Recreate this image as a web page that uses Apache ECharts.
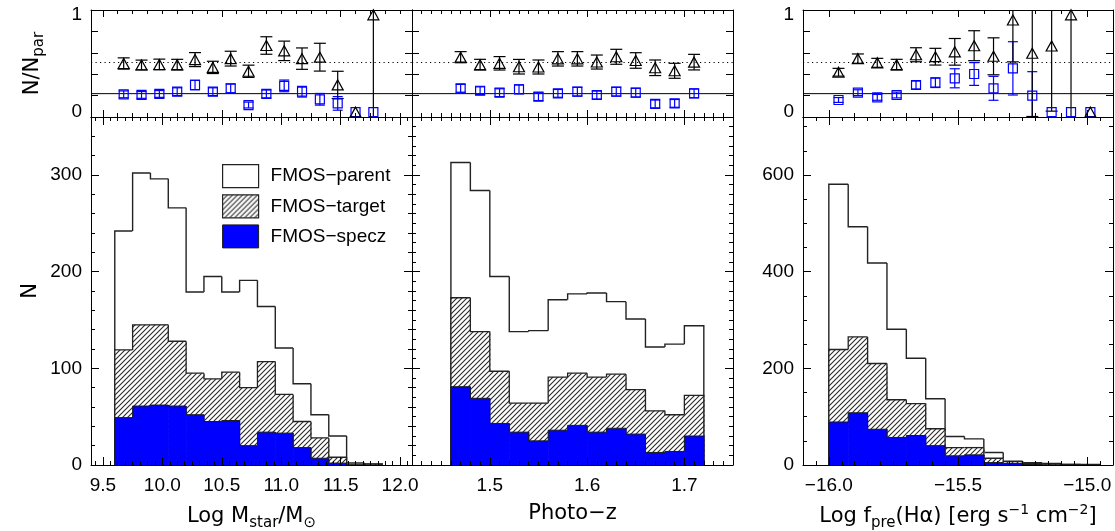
<!DOCTYPE html>
<html>
<head>
<meta charset="utf-8">
<script src="https://cdn.jsdelivr.net/npm/echarts@6/dist/echarts.min.js"></script>
<style>
  html, body { margin: 0; padding: 0; background: #fff; }
  #chart { width: 1115px; height: 531px; }
</style>
</head>
<body>
<div id="chart"></div>
<script>
// ---- Histogram bin edges ----
const massEdges = [9.60, 9.75, 9.90, 10.05, 10.20, 10.35, 10.50, 10.65, 10.80, 10.95, 11.10, 11.25, 11.40, 11.55, 11.70, 11.85];
const zEdges = [1.46, 1.48, 1.50, 1.52, 1.54, 1.56, 1.58, 1.60, 1.62, 1.64, 1.66, 1.68, 1.70, 1.72];
const fluxEdges = [-16.000, -15.925, -15.850, -15.775, -15.700, -15.625, -15.550, -15.475, -15.400, -15.325, -15.250, -15.175, -15.100, -15.025, -14.950];

// ---- Counts per bin ----
const massParent = [242, 302, 296, 266, 179, 195, 179, 191, 164, 121, 84, 52, 30, 2, 1];
const massTarget = [119, 145, 145, 128, 95, 89, 96, 80, 107, 73, 45, 28, 8, 0, 1];
const massSpecz  = [49, 61, 62, 61, 52, 45, 46, 20, 34, 33, 18, 7, 2, 0, 0];

const zParent = [313, 284, 195, 138, 139, 171, 177, 178, 169, 151, 122, 125, 144];
const zTarget = [173, 138, 97, 64, 64, 91, 95, 91, 94, 78, 56, 52, 72];
const zSpecz  = [81, 69, 43, 34, 25, 36, 41, 34, 38, 32, 13, 14, 30];

const fluxParent = [581, 493, 418, 281, 221, 137, 59, 54, 26, 8, 5, 3, 1, 1];
const fluxTarget = [239, 265, 210, 135, 127, 75, 36, 36, 14, 7, 3, 2, 1, 0];
const fluxSpecz  = [89, 108, 74, 57, 61, 40, 19, 21, 5, 3, 1, 0, 0, 0];

// ---- Fractions relative to the parent sample, with 1-sigma errors ----
const massFracTarget = [0.50, 0.485, 0.49, 0.488, 0.54, 0.46, 0.55, 0.42, 0.685, 0.63, 0.55, 0.565, 0.28, 0, 1];
const massErrTarget  = [0.058, 0.05, 0.055, 0.055, 0.072, 0.063, 0.076, 0.063, 0.09, 0.10, 0.11, 0.143, 0.14, 0, 1.1];
const massFracSpecz  = [0.183, 0.177, 0.187, 0.21, 0.279, 0.21, 0.244, 0.073, 0.187, 0.27, 0.21, 0.132, 0.09, 0, 0];
const massErrSpecz   = [0.035, 0.035, 0.035, 0.04, 0.05, 0.04, 0.045, 0.03, 0.04, 0.06, 0.055, 0.06, 0.07, 0, 0];

const zFracTarget = [0.565, 0.488, 0.502, 0.467, 0.464, 0.548, 0.548, 0.515, 0.569, 0.531, 0.456, 0.425, 0.514];
const zErrTarget  = [0.057, 0.055, 0.069, 0.075, 0.072, 0.074, 0.074, 0.072, 0.077, 0.08, 0.08, 0.077, 0.08];
const zFracSpecz  = [0.245, 0.22, 0.20, 0.235, 0.159, 0.193, 0.21, 0.176, 0.21, 0.20, 0.084, 0.09, 0.193];
const zErrSpecz   = [0.04, 0.04, 0.04, 0.045, 0.04, 0.04, 0.045, 0.04, 0.045, 0.045, 0.04, 0.04, 0.045];

const fluxFracTarget = [0.41, 0.55, 0.507, 0.488, 0.59, 0.57, 0.62, 0.683, 0.574, 0.947, 0.605, 0.68, 1.0, 0];
const fluxErrTarget  = [0.04, 0.048, 0.046, 0.055, 0.072, 0.086, 0.137, 0.154, 0.19, 0.43, 0.65, 0.67, 1.1, 0];
const fluxFracSpecz  = [0.125, 0.2, 0.152, 0.176, 0.279, 0.303, 0.348, 0.392, 0.245, 0.45, 0.169, 0, 0, 0];
const fluxErrSpecz   = [0.025, 0.03, 0.03, 0.03, 0.04, 0.05, 0.098, 0.117, 0.123, 0.274, 0.247, 0, 0, 0];

// Overall fractions of the whole sample (horizontal reference lines)
const overallTargetFrac = 0.51;
const overallSpeczFrac = 0.19;

// ---- Tick labels ----
const massTicks = [9.5, 10.0, 10.5, 11.0, 11.5, 12.0];
const zTicks = [1.5, 1.6, 1.7];
const fluxTicks = [-16.0, -15.5, -15.0];
const countTicksA = [0, 100, 200, 300];
const countTicksB = [0, 200, 400, 600];
const fracTicks = [0, 1];

const seriesNames = ['FMOS\u2212parent', 'FMOS\u2212target', 'FMOS\u2212specz'];

// ---------------------------------------------------------------
const FONT = 'Liberation Sans, DejaVu Sans, sans-serif';
const TITLE_FONT = 'DejaVu Sans, Liberation Sans, sans-serif';
const BLUE = '#0000ff';

function steps(a, b, step) {
  const out = [];
  const n = Math.round((b - a) / step);
  for (let i = 0; i <= n; i++) out.push(+(a + i * step).toFixed(6));
  return out;
}
function inside(vals, lo, hi) { return vals.filter(v => v > lo + 1e-9 && v < hi - 1e-9); }
function centers(edges) { return edges.slice(0, -1).map((e, i) => (e + edges[i + 1]) / 2); }

// diagonal hatch pattern
function hatchCanvas() {
  const s = 5, c = document.createElement('canvas');
  c.width = s; c.height = s;
  const g = c.getContext('2d');
  g.fillStyle = '#fff'; g.fillRect(0, 0, s, s);
  g.strokeStyle = '#2a2a2a'; g.lineWidth = 1.1;
  g.beginPath();
  g.moveTo(-1, s + 1); g.lineTo(s + 1, -1);
  g.moveTo(-1, 1); g.lineTo(1, -1);
  g.moveTo(s - 1, s + 1); g.lineTo(s + 1, s - 1);
  g.stroke();
  return c;
}
const HATCH = { image: hatchCanvas(), repeat: 'repeat' };

const cols = [
  { left: 91,  width: 321, xMin: 9.4,   xMax: 12.1,
    xMajorBot: massTicks, xMinorBot: steps(9.375, 12.125, 0.0625),
    xMajorTop: [9.5, 10.5, 11.5], xMinorTop: steps(9.375, 12.125, 0.125),
    yMax: 360, yMajor: countTicksA, yMinor: steps(0, 360, 20),
    xLabels: massTicks, yLabels: countTicksA, fracLabels: true },
  { left: 412, width: 321, xMin: 1.42,  xMax: 1.75,
    xMajorBot: zTicks, xMinorBot: steps(1.42, 1.75, 0.01),
    xMajorTop: zTicks, xMinorTop: steps(1.42, 1.75, 0.01),
    yMax: 360, yMajor: countTicksA, yMinor: steps(0, 360, 10),
    xLabels: zTicks, yLabels: null, fracLabels: false },
  { left: 803, width: 310, xMin: -16.1, xMax: -14.9,
    xMajorBot: fluxTicks, xMinorBot: steps(-16.1, -14.9, 0.05),
    xMajorTop: fluxTicks, xMinorTop: steps(-16.1, -14.9, 0.1),
    yMax: 720, yMajor: countTicksB, yMinor: steps(0, 720, 50),
    xLabels: fluxTicks, yLabels: countTicksB, fracLabels: true }
];

const TOP_Y = 10, TOP_H = 107, BOT_Y = 117, BOT_H = 348;
const FRAC_MIN = -0.05, FRAC_MAX = 1.05;
const fracTickVals = inside(steps(FRAC_MIN, FRAC_MAX, 0.22), FRAC_MIN, FRAC_MAX);

const grids = [];
cols.forEach(c => grids.push({ left: c.left, top: TOP_Y, width: c.width, height: TOP_H, containLabel: false, outerBoundsMode: 'none' }));
cols.forEach(c => grids.push({ left: c.left, top: BOT_Y, width: c.width, height: BOT_H, containLabel: false, outerBoundsMode: 'none' }));

const labelStyle = { color: '#000', fontFamily: FONT, fontSize: 19 };
const titleStyle = { color: '#000', fontFamily: TITLE_FONT, fontSize: 21 };
const richStyles = {
  s: { fontSize: 15, fontFamily: TITLE_FONT, color: '#000', padding: [13, 0, 0, 0] },
  p: { fontSize: 14, fontFamily: TITLE_FONT, color: '#000', padding: [0, 0, 13, 0] }
};

function axisBase(gi, pos, min, max, ticks, len, showLine) {
  return {
    type: 'value', gridIndex: gi, position: pos, min: min, max: max, z: 10, silent: true,
    axisLine: { show: !!showLine, onZero: false, lineStyle: { color: '#000', width: 1 } },
    axisTick: { show: true, inside: true, length: len, customValues: inside(ticks, min, max), lineStyle: { color: '#000', width: 1 } },
    axisLabel: { show: false },
    splitLine: { show: false },
    axisPointer: { show: false }
  };
}
function fmtSigned(v) { return (v < 0 ? '\u2212' : '') + Math.abs(v).toFixed(1); }

const xMain = [], yMain = [], xExtra = [], yExtra = [];
// top panels: grids 0..2
cols.forEach((c, i) => {
  const gi = i;
  xMain.push(axisBase(gi, 'bottom', c.xMin, c.xMax, c.xMajorTop, 7, true));
  xExtra.push(axisBase(gi, 'bottom', c.xMin, c.xMax, c.xMinorTop, 4, false));
  xExtra.push(axisBase(gi, 'top', c.xMin, c.xMax, c.xMajorTop, 7, true));
  xExtra.push(axisBase(gi, 'top', c.xMin, c.xMax, c.xMinorTop, 4, false));
  const yl = axisBase(gi, 'left', FRAC_MIN, FRAC_MAX, fracTickVals, 7, true);
  if (c.fracLabels) {
    yl.axisLabel = { show: true, customValues: fracTicks, margin: 9, ...labelStyle, formatter: v => String(Math.round(v)) };
  }
  if (i === 0) {
    yl.name = 'N/N{s|par}';
    yl.nameLocation = 'middle';
    yl.nameRotate = 90;
    yl.nameGap = 44;
    yl.nameTextStyle = { ...titleStyle, rich: richStyles };
  }
  yMain.push(yl);
  yExtra.push(axisBase(gi, 'right', FRAC_MIN, FRAC_MAX, fracTickVals, 7, true));
});
// bottom panels: grids 3..5
const xNames = [
  'Log M{s|star}/M{s|\u2299}',
  'Photo\u2212z',
  'Log f{s|pre}(H\u03b1) [erg s{p|\u22121} cm{p|\u22122}]'
];
cols.forEach((c, i) => {
  const gi = i + 3;
  const xb = axisBase(gi, 'bottom', c.xMin, c.xMax, c.xMajorBot, 8, true);
  xb.axisLabel = { show: true, customValues: c.xLabels, margin: 11, ...labelStyle, formatter: fmtSigned };
  xb.name = xNames[i];
  xb.nameLocation = 'middle';
  xb.nameGap = 38;
  xb.nameTextStyle = { ...titleStyle, rich: richStyles };
  xMain.push(xb);
  xExtra.push(axisBase(gi, 'bottom', c.xMin, c.xMax, c.xMinorBot, 4, false));
  xExtra.push(axisBase(gi, 'top', c.xMin, c.xMax, c.xMajorBot, 8, true));
  xExtra.push(axisBase(gi, 'top', c.xMin, c.xMax, c.xMinorBot, 4, false));
  const yl = axisBase(gi, 'left', 0, c.yMax, c.yMajor, 8, true);
  if (c.yLabels) {
    yl.axisLabel = { show: true, customValues: c.yLabels, margin: 9, ...labelStyle, formatter: v => String(Math.round(v)) };
  }
  if (i === 0) {
    yl.name = 'N';
    yl.nameLocation = 'middle';
    yl.nameRotate = 90;
    yl.nameGap = 50;
    yl.nameTextStyle = { ...titleStyle };
  }
  yMain.push(yl);
  yExtra.push(axisBase(gi, 'left', 0, c.yMax, c.yMinor, 4, false));
  yExtra.push(axisBase(gi, 'right', 0, c.yMax, c.yMajor, 8, true));
  yExtra.push(axisBase(gi, 'right', 0, c.yMax, c.yMinor, 4, false));
});

// ---- Histogram: filled steps with an outline that only traces the step edges ----
function histData(edges, counts) {
  return counts.map((v, i) => [edges[i], edges[i + 1], v, i === 0 ? 0 : counts[i - 1], i === counts.length - 1 ? 1 : 0]);
}
function histRender(fill, stroke, lw) {
  return function (params, api) {
    const x0 = api.value(0), x1 = api.value(1), v = api.value(2), prev = api.value(3), last = api.value(4);
    const a = api.coord([x0, v]), b = api.coord([x1, v]), base = api.coord([x1, 0]), pPrev = api.coord([x0, prev]);
    const pts = [pPrev, a, b];
    if (last) pts.push(base);
    const children = [];
    if (v > 0) {
      children.push({ type: 'rect', shape: { x: a[0], y: a[1], width: b[0] - a[0] + 0.6, height: base[1] - a[1] }, style: { fill: fill } });
    }
    children.push({ type: 'polyline', shape: { points: pts }, style: { stroke: stroke, lineWidth: lw, fill: null } });
    return { type: 'group', children: children };
  };
}
function histSeries(name, gi, edges, counts, fill, stroke, lw, z) {
  return {
    type: 'custom', name: name, xAxisIndex: gi, yAxisIndex: gi, z: z, silent: true,
    renderItem: histRender(fill, stroke, lw),
    encode: { x: [0, 1], y: 2 },
    itemStyle: { color: fill },
    data: histData(edges, counts)
  };
}

// ---- Fractions: error bars plus hollow markers ----
function errRender(color, cap) {
  return function (params, api) {
    const x = api.value(0), y = api.value(1), e = api.value(2);
    if (!(e > 0)) return { type: 'group', children: [] };
    const t = api.coord([x, y + e]), b = api.coord([x, y - e]);
    const st = { stroke: color, lineWidth: 1.2 };
    return { type: 'group', children: [
      { type: 'line', shape: { x1: t[0], y1: t[1], x2: b[0], y2: b[1] }, style: st },
      { type: 'line', shape: { x1: t[0] - cap, y1: t[1], x2: t[0] + cap, y2: t[1] }, style: st },
      { type: 'line', shape: { x1: b[0] - cap, y1: b[1], x2: b[0] + cap, y2: b[1] }, style: st }
    ] };
  };
}
function fracSeries(gi, edges, frac, err, color, symbol, size, cap) {
  const cx = centers(edges);
  return [
    { type: 'custom', xAxisIndex: gi, yAxisIndex: gi, z: 4, silent: true, clip: true,
      renderItem: errRender(color, cap), encode: { x: 0, y: 1 },
      data: cx.map((x, i) => [x, frac[i], err[i]]) },
    { type: 'scatter', xAxisIndex: gi, yAxisIndex: gi, z: 5, silent: true, clip: true,
      symbol: symbol, symbolSize: size,
      itemStyle: { color: 'rgba(0,0,0,0)', borderColor: color, borderWidth: 1.2, opacity: 1 },
      data: cx.map((x, i) => [x, frac[i]]) }
  ];
}
function refLines(gi, c) {
  return [
    { type: 'line', xAxisIndex: gi, yAxisIndex: gi, z: 3, silent: true, showSymbol: false, symbol: 'none',
      lineStyle: { color: '#000', width: 1 }, data: [[c.xMin, overallSpeczFrac], [c.xMax, overallSpeczFrac]] },
    { type: 'line', xAxisIndex: gi, yAxisIndex: gi, z: 3, silent: true, showSymbol: false, symbol: 'none',
      lineStyle: { color: '#000', width: 1, type: [1.2, 3.3] }, data: [[c.xMin, overallTargetFrac], [c.xMax, overallTargetFrac]] }
  ];
}

const panels = [
  { edges: massEdges, parent: massParent, target: massTarget, specz: massSpecz,
    ft: massFracTarget, et: massErrTarget, fs: massFracSpecz, es: massErrSpecz },
  { edges: zEdges, parent: zParent, target: zTarget, specz: zSpecz,
    ft: zFracTarget, et: zErrTarget, fs: zFracSpecz, es: zErrSpecz },
  { edges: fluxEdges, parent: fluxParent, target: fluxTarget, specz: fluxSpecz,
    ft: fluxFracTarget, et: fluxErrTarget, fs: fluxFracSpecz, es: fluxErrSpecz }
];

const series = [];
panels.forEach((p, i) => {
  const c = cols[i];
  series.push(...refLines(i, c));
  series.push(...fracSeries(i, p.edges, p.fs, p.es, BLUE, 'rect', 9, 5));
  series.push(...fracSeries(i, p.edges, p.ft, p.et, '#000', 'triangle', [11, 10], 6));
  const gi = i + 3;
  series.push(histSeries(seriesNames[0], gi, p.edges, p.parent, '#fff', '#222', 1.4, 2));
  series.push(histSeries(seriesNames[1], gi, p.edges, p.target, HATCH, '#222', 1.3, 3));
  series.push(histSeries(seriesNames[2], gi, p.edges, p.specz, BLUE, '#1a1a1a', 1.0, 4));
});

const option = {
  animation: false,
  backgroundColor: '#fff',
  textStyle: { fontFamily: FONT },
  tooltip: { show: false },
  grid: grids,
  xAxis: xMain.concat(xExtra),
  yAxis: yMain.concat(yExtra),
  legend: {
    show: true, selectedMode: false, orient: 'vertical',
    left: 222, top: 164, padding: 0,
    itemWidth: 36, itemHeight: 23, itemGap: 6,
    icon: 'rect',
    textStyle: { color: '#000', fontFamily: FONT, fontSize: 19, padding: [0, 0, 0, 7] },
    data: [
      { name: seriesNames[0], itemStyle: { color: '#fff', borderColor: '#222', borderWidth: 1.2 } },
      { name: seriesNames[1], itemStyle: { color: HATCH, borderColor: '#222', borderWidth: 1.2 } },
      { name: seriesNames[2], itemStyle: { color: BLUE, borderColor: '#1a1a1a', borderWidth: 1 } }
    ]
  },
  series: series
};

const chart = echarts.init(document.getElementById('chart'), null, { renderer: 'canvas' });
chart.setOption(option);
</script>
</body>
</html>
